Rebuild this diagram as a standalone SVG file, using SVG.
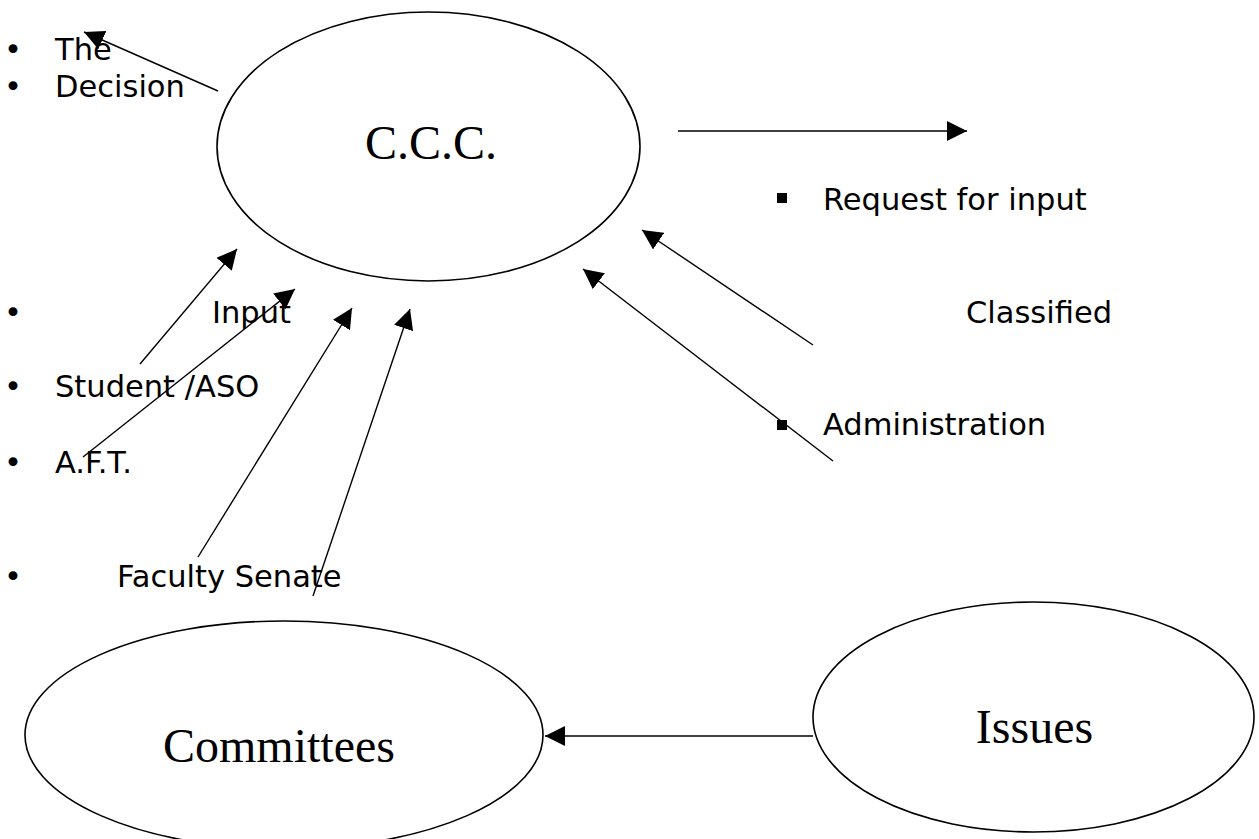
<svg xmlns="http://www.w3.org/2000/svg" width="1259" height="839" viewBox="0 0 1259 839">
<style>
.bg{fill:#ffffff}
.node ellipse{fill:none;stroke:#000;stroke-width:1.6}
.big{font-family:"Liberation Serif","Times New Roman",serif;font-size:48px;fill:#000}
.lbl{font-family:"DejaVu Sans","Liberation Sans",sans-serif;font-size:30.5px;fill:#000}
.sq{fill:#000}
#connectors line{stroke:#000;stroke-width:1.4;fill:none}
</style>
<defs>
<marker id="ah" markerUnits="userSpaceOnUse" markerWidth="21" markerHeight="20" refX="20" refY="10" orient="auto">
<path d="M0,0 L20,10 L0,20 z" fill="#000"/>
</marker>
</defs>
<rect class="bg" x="0" y="0" width="1259" height="839"/>

<g id="node-ccc" class="node">
<ellipse cx="428.5" cy="146.5" rx="211.5" ry="134.5"/>
<text class="big" x="431" y="159" text-anchor="middle">C.C.C.</text>
</g>

<g id="node-committees" class="node">
<ellipse cx="284" cy="735" rx="259" ry="114"/>
<text class="big" x="279" y="762" text-anchor="middle">Committees</text>
</g>

<g id="node-issues" class="node">
<ellipse cx="1033.5" cy="717" rx="220.5" ry="115"/>
<text class="big" x="1034.5" y="743" text-anchor="middle">Issues</text>
</g>

<g id="labels-left">
<text class="lbl" x="4" y="60">•</text>
<text class="lbl" x="55" y="60">The</text>
<text class="lbl" x="4" y="97">•</text>
<text class="lbl" x="55" y="97">Decision</text>
<text class="lbl" x="4" y="323">•</text>
<text class="lbl" x="212" y="323">Input</text>
<text class="lbl" x="4" y="397">•</text>
<text class="lbl" x="55" y="397">Student /ASO</text>
<text class="lbl" x="4" y="473">•</text>
<text class="lbl" x="55" y="473">A.F.T.</text>
<text class="lbl" x="4" y="587">•</text>
<text class="lbl" x="117" y="587">Faculty Senate</text>
</g>

<g id="labels-right">
<rect class="sq" x="777" y="193" width="10" height="10"/>
<text class="lbl" x="823" y="210">Request for input</text>
<text class="lbl" x="966" y="323">Classified</text>
<rect class="sq" x="777" y="420" width="10" height="10"/>
<text class="lbl" x="823" y="435">Administration</text>
</g>

<g id="connectors">
<line x1="218" y1="91" x2="84" y2="32" marker-end="url(#ah)"/>
<line x1="140" y1="364" x2="237" y2="249" marker-end="url(#ah)"/>
<line x1="83" y1="457" x2="295" y2="289" marker-end="url(#ah)"/>
<line x1="198" y1="557" x2="352" y2="308" marker-end="url(#ah)"/>
<line x1="313" y1="596" x2="410" y2="309" marker-end="url(#ah)"/>
<line x1="678" y1="131" x2="967" y2="131" marker-end="url(#ah)"/>
<line x1="813" y1="345" x2="642" y2="230" marker-end="url(#ah)"/>
<line x1="833" y1="461" x2="583" y2="269" marker-end="url(#ah)"/>
<line x1="813" y1="736" x2="545" y2="736" marker-end="url(#ah)"/>
</g>
</svg>
